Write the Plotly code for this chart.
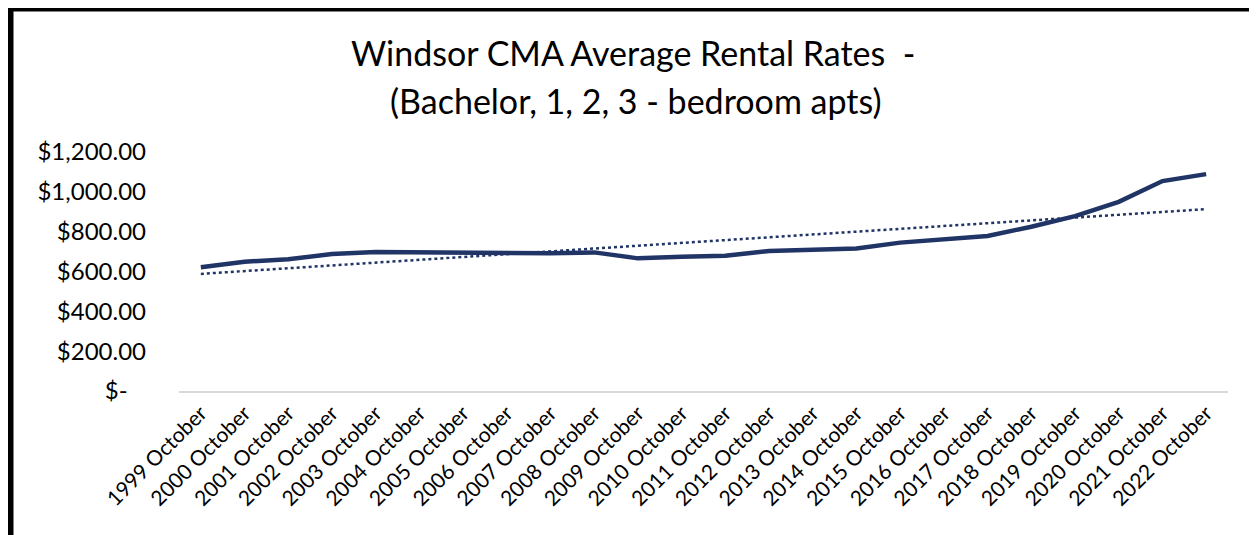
import numpy as np
import plotly.graph_objects as go

years = list(range(1999, 2023))
categories = [f"{y} October" for y in years]
avg_rent = [621, 649, 661, 688, 698, 696, 694, 693, 692, 696, 666, 674,
            679, 703, 708, 716, 745, 761, 778, 825, 878, 950, 1054, 1089]
y_tick_vals = [0, 200, 400, 600, 800, 1000, 1200]
y_tick_text = ["$-\u00a0\u00a0\u00a0", "$200.00", "$400.00", "$600.00", "$800.00", "$1,000.00", "$1,200.00"]
title_lines = ["Windsor CMA Average Rental Rates  -", "(Bachelor, 1, 2, 3 - bedroom apts)"]

# linear trendline (as Excel's)
idx = np.arange(1, len(avg_rent) + 1)
slope, intercept = np.polyfit(idx, avg_rent, 1)
trend = slope * idx + intercept

OFF = 8  # page body margin
W, H = 1257 - OFF, 535 - OFF
L, R, T, B = 179 - OFF, 1257 - OFF - (1228 - OFF), 152 - OFF, 535 - OFF - (391 - OFF)
pw, ph = W - L - R, H - T - B

NAVY = "#203466"
FONT = "Lato, 'Open Sans', sans-serif"

fig = go.Figure()
fig.add_trace(go.Scatter(x=categories, y=avg_rent, mode="lines",
                         line=dict(color=NAVY, width=4.5), showlegend=False))
fig.add_trace(go.Scatter(x=categories, y=trend, mode="lines",
                         line=dict(color=NAVY, width=2.5, dash="dot"), showlegend=False))

def px_x(sx):  # screen px -> paper
    return (sx - OFF - L) / pw

def px_y(sy):
    return (H - B - (sy - OFF)) / ph

shapes = [
    dict(type="line", xref="paper", yref="paper", x0=px_x(10.5), x1=px_x(10.5), y0=px_y(0), y1=px_y(545),
         line=dict(color="black", width=6)),
    dict(type="line", xref="paper", yref="paper", x0=px_x(0), x1=px_x(1260), y0=px_y(9.5), y1=px_y(9.5),
         line=dict(color="black", width=4)),
    dict(type="line", xref="paper", yref="paper", x0=px_x(1254), x1=px_x(1254), y0=px_y(0), y1=px_y(545),
         line=dict(color="black", width=5)),
]

annotations = [
    dict(text=title_lines[0], xref="paper", yref="paper", x=px_x(633), y=px_y(52),
         xanchor="center", yanchor="middle", showarrow=False,
         font=dict(size=34, family=FONT, color="black")),
    dict(text=title_lines[1], xref="paper", yref="paper", x=px_x(636), y=px_y(100),
         xanchor="center", yanchor="middle", showarrow=False,
         font=dict(size=34, family=FONT, color="black")),
]

fig.update_layout(
    width=W, height=H,
    margin=dict(l=L, r=R, t=T, b=B),
    paper_bgcolor="white", plot_bgcolor="white",
    font=dict(family=FONT, color="black"),
    shapes=shapes,
    annotations=annotations,
    showlegend=False,
)
fig.update_xaxes(type="category", tickangle=-45, tickfont=dict(size=21, family=FONT),
                 showgrid=False, showline=True, linecolor="#d9d9d9", linewidth=1.5,
                 ticks="", range=[-0.5, len(categories) - 0.5], automargin=False)
fig.update_yaxes(range=[0, 1200], tickvals=y_tick_vals, ticktext=y_tick_text,
                 tickfont=dict(size=24, family=FONT), showgrid=False, zeroline=False,
                 ticks="", ticklabelstandoff=32, automargin=False)

fig.write_html("out.html")
